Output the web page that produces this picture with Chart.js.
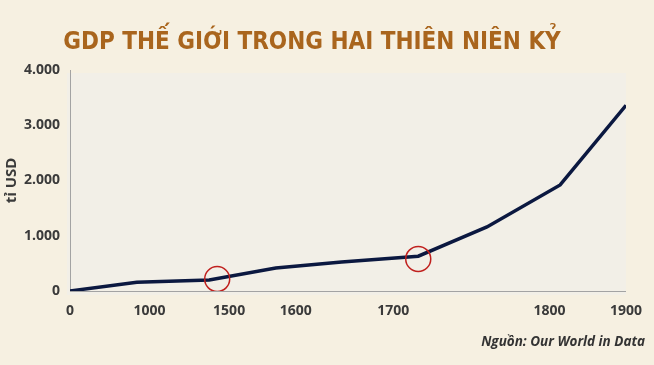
<!DOCTYPE html>
<html>
<head>
<meta charset="utf-8">
<script src="https://cdn.jsdelivr.net/npm/chart.js@4/dist/chart.umd.min.js"></script>
<style>
  html, body { margin: 0; padding: 0; background: #f6f0e1; }
  #wrap { position: relative; width: 654px; height: 365px; overflow: hidden; }
  #chart { position: absolute; left: 0; top: 0; }
  #title {
    position: absolute; left: 0; width: 624px; top: 27px; text-align: center;
    font-family: "DejaVu Sans Condensed", "DejaVu Sans", sans-serif; font-stretch: condensed;
    font-weight: bold; font-size: 24px; color: #a9651d; white-space: nowrap;
  }
  #source {
    position: absolute; right: 9px; top: 332px;
    font-family: "Open Sans", sans-serif; font-style: italic; font-weight: bold;
    font-size: 13.5px; color: #333; white-space: nowrap;
  }
</style>
</head>
<body>
<div id="wrap">
  <canvas id="chart" width="654" height="365"></canvas>
  <div id="title">GDP THẾ GIỚI TRONG HAI THIÊN NIÊN KỶ</div>
  <div id="source">Nguồn: Our World in Data</div>
</div>
<script>
// dữ liệu
const years = [0, 840, 1375, 1570, 1647, 1716, 1760, 1814, 1900];
const gdp   = [0, 160, 200, 415, 525, 630, 1160, 1920, 3360];
const markYears  = [1425, 1716];   // hai vòng tròn đỏ
const markValues = [217, 580];
const xTickYears = [0, 1000, 1500, 1600, 1700, 1800, 1900];
const yTicks = [0, 1000, 2000, 3000, 4000];

// trục năm không đều: vị trí (0..1) của từng mốc trên trục
const tickPos = [0, 0.1431, 0.2862, 0.4061, 0.5814, 0.8623, 1];

class YearScale extends Chart.LinearScale {
  getPixelForValue(v) {
    let i = 1;
    while (i < xTickYears.length - 1 && v > xTickYears[i]) i++;
    const t = (v - xTickYears[i-1]) / (xTickYears[i] - xTickYears[i-1]);
    return this.getPixelForDecimal(tickPos[i-1] + t * (tickPos[i] - tickPos[i-1]));
  }
  getValueForPixel(p) {
    const f = this.getDecimalForPixel(p);
    let i = 1;
    while (i < tickPos.length - 1 && f > tickPos[i]) i++;
    const t = (f - tickPos[i-1]) / (tickPos[i] - tickPos[i-1]);
    return xTickYears[i-1] + t * (xTickYears[i] - xTickYears[i-1]);
  }
  buildTicks() {
    return xTickYears.map(v => ({ value: v }));
  }
}
YearScale.id = "yearScale";
YearScale.defaults = Chart.LinearScale.defaults;
Chart.register(YearScale);

const plotBg = {
  id: "plotBg",
  beforeDraw(chart) {
    const a = chart.chartArea, ctx = chart.ctx;
    ctx.save();
    ctx.fillStyle = "#f2efe7";
    ctx.fillRect(a.left - 3, a.top + 3, a.right - a.left + 3, a.bottom - a.top + 1);
    ctx.restore();
  }
};

const tickFont = { family: "'Open Sans', sans-serif", size: 14, weight: "bold" };

new Chart(document.getElementById("chart"), {
  type: "line",
  data: {
    datasets: [{
      data: years.map((y, i) => ({ x: y, y: gdp[i] })),
      borderColor: "#0b1840",
      borderWidth: 3.5,
      pointRadius: 0,
      tension: 0,
      fill: false,
      order: 2
    }, {
      data: markYears.map((y, i) => ({ x: y, y: markValues[i] })),
      showLine: false,
      pointRadius: 12.5,
      pointBorderColor: "#c0201e",
      pointBorderWidth: 1.5,
      pointBackgroundColor: "rgba(0,0,0,0)",
      order: 1
    }]
  },
  options: {
    responsive: false,
    animation: false,
    events: [],
    layout: { padding: { top: 70, right: 25, bottom: 44, left: 0 } },
    plugins: { legend: { display: false }, tooltip: { enabled: false } },
    scales: {
      x: {
        type: "yearScale",
        min: 0, max: 1900,
        grid: { display: false, drawTicks: false },
        border: { display: true, color: "#a3a3a3", width: 1 },
        ticks: {
          padding: 12, color: "#3a3a3a", font: tickFont,
          autoSkip: false, maxRotation: 0,
          callback: v => String(v)
        },
        afterFit: s => { s.height = 30; }
      },
      y: {
        min: 0, max: 4000,
        afterBuildTicks: s => { s.ticks = yTicks.map(v => ({ value: v })); },
        grid: { display: false, drawTicks: false },
        border: { display: true, color: "#a3a3a3", width: 1 },
        ticks: {
          padding: 10, color: "#3a3a3a", font: tickFont,
          callback: v => String(v).replace(/\B(?=(\d{3})+(?!\d))/g, ".")
        },
        title: {
          display: true, text: "tỉ USD", color: "#3a3a3a",
          font: { family: "'Open Sans', sans-serif", size: 15, weight: "bold" },
          padding: { top: 3, bottom: 0 }
        },
        afterFit: s => { s.width = 70; }
      }
    }
  },
  plugins: [plotBg]
});
</script>
</body>
</html>
